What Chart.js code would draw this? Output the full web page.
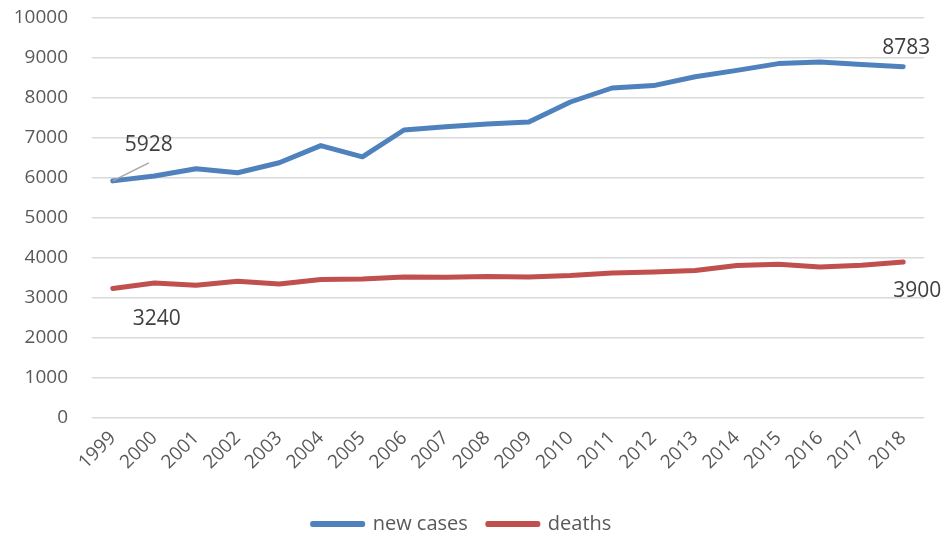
<!DOCTYPE html>
<html>
<head>
<meta charset="utf-8">
<script src="https://cdn.jsdelivr.net/npm/chart.js@4.4.1/dist/chart.umd.min.js"></script>
<style>
  html, body { margin: 0; padding: 0; background: #fff; }
  #wrap { width: 946px; height: 539px; }
</style>
</head>
<body>
<div id="wrap"><canvas id="lineChart" width="946" height="539"></canvas></div>
<script>
// Data for the line chart
var years = ['1999', '2000', '2001', '2002', '2003', '2004', '2005', '2006', '2007', '2008',
             '2009', '2010', '2011', '2012', '2013', '2014', '2015', '2016', '2017', '2018'];
var newCases = [5928, 6050, 6230, 6130, 6380, 6810, 6530, 7200, 7280, 7350,
                7400, 7900, 8250, 8310, 8530, 8690, 8860, 8900, 8840, 8783];
var deaths = [3240, 3375, 3317, 3417, 3350, 3460, 3475, 3525, 3520, 3540,
              3525, 3560, 3625, 3650, 3685, 3810, 3845, 3775, 3820, 3900];
var yTicks = [0, 1000, 2000, 3000, 4000, 5000, 6000, 7000, 8000, 9000, 10000];

var fontFamily = "'Open Sans', 'Liberation Sans', sans-serif";

// Draws the first / last value labels like the Excel original
var endLabels = {
    id: 'endLabels',
    afterDatasetsDraw: function(chart) {
        var ctx = chart.ctx;
        // [dataset, index, dx, dy, leader line]
        var spots = [
            [0, 0, 36, -36, true],
            [0, years.length - 1, 3, -19, false],
            [1, 0, 44, 31, false],
            [1, years.length - 1, 14, 29, false]
        ];
        ctx.save();
        ctx.font = '21px ' + fontFamily;
        ctx.fillStyle = '#404040';
        ctx.textAlign = 'center';
        ctx.textBaseline = 'middle';
        spots.forEach(function(s) {
            var pt = chart.getDatasetMeta(s[0]).data[s[1]];
            var value = chart.data.datasets[s[0]].data[s[1]];
            if (s[4]) {
                ctx.strokeStyle = '#a6a6a6';
                ctx.lineWidth = 1.5;
                ctx.beginPath();
                ctx.moveTo(pt.x, pt.y);
                ctx.lineTo(pt.x + s[2], pt.y - 18);
                ctx.stroke();
            }
            ctx.fillText(String(value), pt.x + s[2], pt.y + s[3]);
        });
        ctx.restore();
    }
};

var lineCanvas = document.getElementById('lineChart').getContext('2d');

var lineChart = new Chart(lineCanvas, {
    type: 'line',
    data: {
        labels: years,
        datasets: [{
            label: 'new cases',
            data: newCases,
            borderColor: '#4f81bd',
            backgroundColor: '#4f81bd',
            borderWidth: 5,
            borderCapStyle: 'round',
            borderJoinStyle: 'round',
            pointRadius: 0,
            tension: 0
        }, {
            label: 'deaths',
            data: deaths,
            borderColor: '#c0504d',
            backgroundColor: '#c0504d',
            borderWidth: 5,
            borderCapStyle: 'round',
            borderJoinStyle: 'round',
            pointRadius: 0,
            tension: 0
        }]
    },
    options: {
        responsive: false,
        animation: false,
        layout: {
            padding: { top: 18, right: 22, left: 0, bottom: -5 }
        },
        scales: {
            x: {
                offset: true,
                grid: { display: false, drawTicks: false },
                border: { display: false },
                ticks: {
                    color: '#595959',
                    font: { family: fontFamily, size: 19 },
                    minRotation: 45,
                    maxRotation: 45,
                    autoSkip: false,
                    padding: 9
                },
                afterFit: function(scale) { scale.height = 76; }
            },
            y: {
                min: 0,
                max: 10000,
                afterBuildTicks: function(scale) {
                    scale.ticks = yTicks.map(function(v) { return { value: v }; });
                },
                // invisible tick marks give the gap between labels and plot
                grid: { color: '#d9d9d9', lineWidth: 1.5, drawTicks: true, tickLength: 24, tickColor: 'rgba(0,0,0,0)' },
                border: { display: false },
                ticks: {
                    color: '#595959',
                    font: { family: fontFamily, size: 19 },
                    padding: 0,
                    callback: function(value) { return String(value); }
                },
                afterFit: function(scale) { scale.width = 92; }
            }
        },
        plugins: {
            legend: {
                position: 'bottom',
                labels: {
                    color: '#595959',
                    font: { family: fontFamily, size: 20 },
                    boxWidth: 50,
                    boxHeight: 1,
                    padding: 20
                }
            },
            tooltip: { enabled: false }
        }
    },
    plugins: [endLabels]
});
</script>
</body>
</html>
